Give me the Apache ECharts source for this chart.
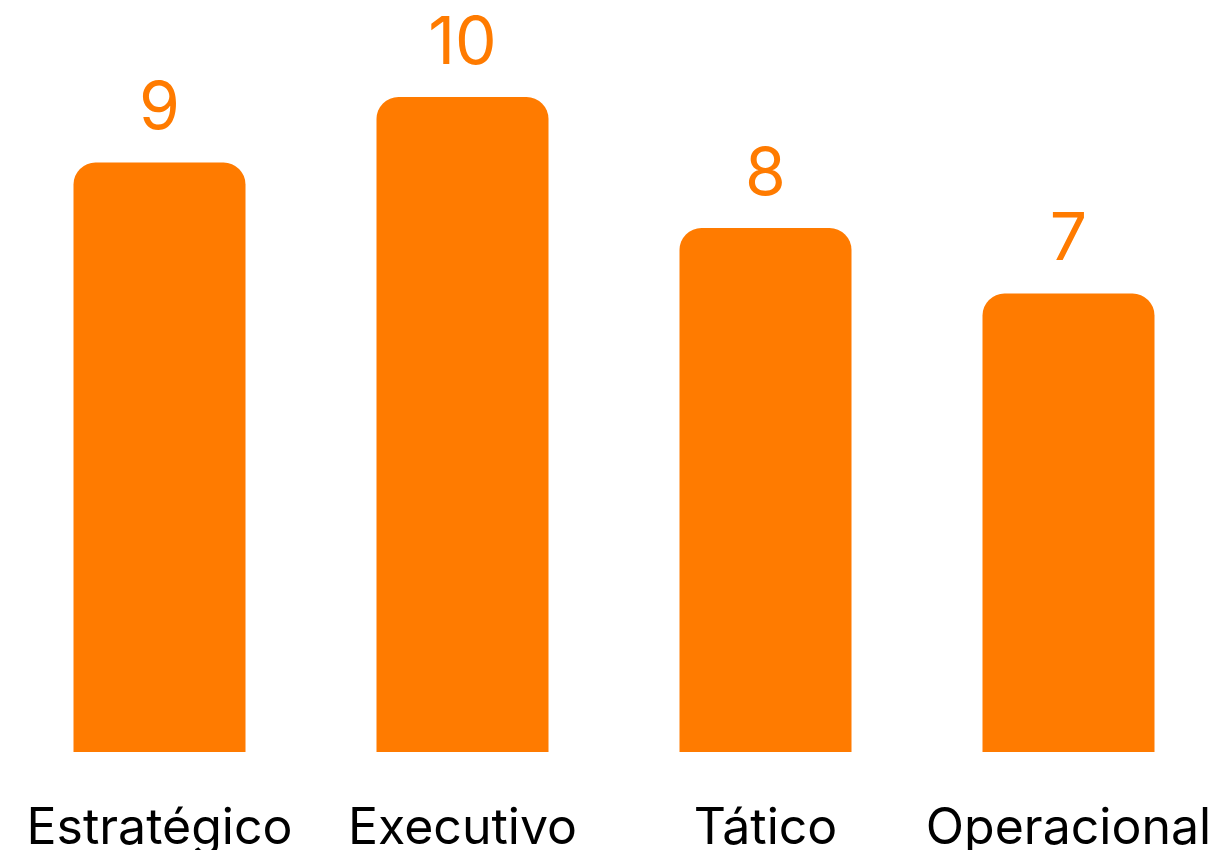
<!DOCTYPE html>
<html>
<head>
<meta charset="utf-8">
<script src="https://cdn.jsdelivr.net/npm/echarts@6/dist/echarts.min.js"></script>
<style>
	html, body { margin: 0; padding: 0; background: #fff; }
	#main { width: 1220px; height: 850px; }
</style>
</head>
<body>
<div id="main"></div>
<script>
	const categories = ['Estratégico', 'Executivo', 'Tático', 'Operacional']
	const values = [9, 10, 8, 7]

	const chart = echarts.init(document.getElementById('main'))
	chart.setOption({
		animation: false,
		grid: { left: 8, right: 0, top: 97, bottom: 98, outerBoundsMode: 'none' },
		xAxis: {
			type: 'category',
			data: categories,
			axisLine: { show: false },
			axisTick: { show: false },
			axisLabel: {
				interval: 0,
				hideOverlap: false,
				color: '#000',
				fontFamily: 'Inter',
				fontSize: 50,
				margin: 52,
			},
		},
		yAxis: {
			type: 'value',
			min: 0,
			max: 10,
			show: false,
			splitLine: { show: false },
		},
		series: [
			{
				type: 'bar',
				data: values,
				barWidth: 172,
				itemStyle: { color: '#FF7B00', borderRadius: [22, 22, 0, 0] },
				label: {
					show: true,
					position: 'top',
					distance: 20,
					color: '#FF7B00',
					fontFamily: 'Inter',
					fontSize: 66,
				},
			},
		],
	})
</script>
</body>
</html>
